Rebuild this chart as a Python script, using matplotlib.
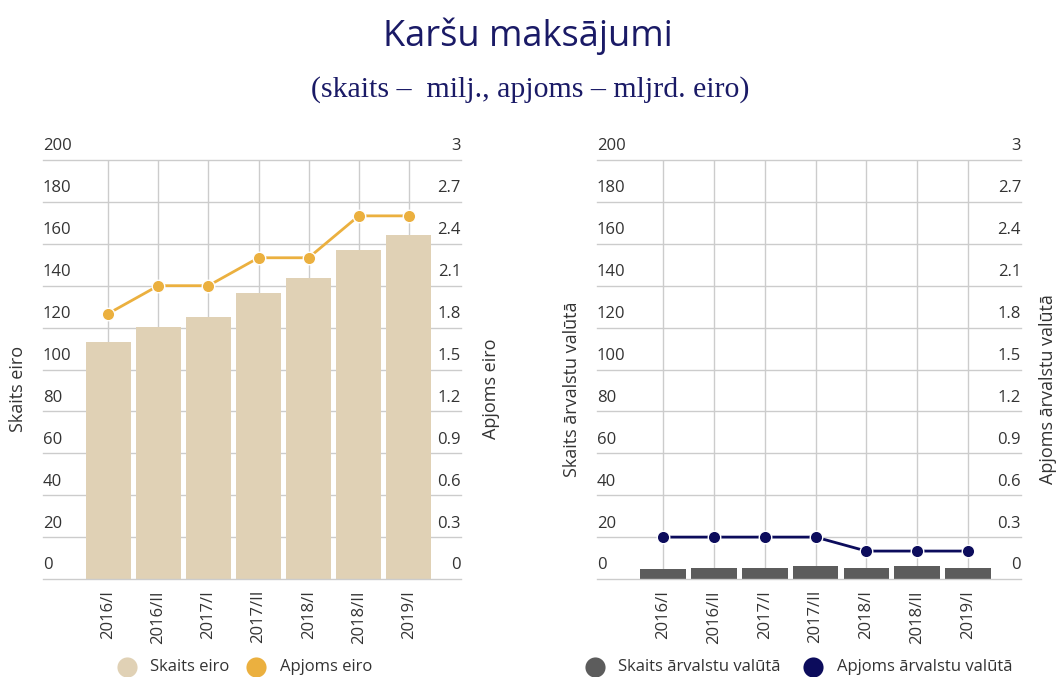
import matplotlib
matplotlib.use("Agg")
import matplotlib.pyplot as plt

# ---- data ----
categories = ["2016/I", "2016/II", "2017/I", "2017/II", "2018/I", "2018/II", "2019/I"]
skaits_eiro = [113, 120.5, 125, 136.5, 143.5, 157, 164]
apjoms_eiro = [1.9, 2.1, 2.1, 2.3, 2.3, 2.6, 2.6]
skaits_arv = [4.6, 5.2, 5.2, 6.0, 5.2, 6.0, 5.2]
apjoms_arv = [0.3, 0.3, 0.3, 0.3, 0.2, 0.2, 0.2]
left_ticks = [0, 20, 40, 60, 80, 100, 120, 140, 160, 180, 200]
right_ticks = [0, 0.3, 0.6, 0.9, 1.2, 1.5, 1.8, 2.1, 2.4, 2.7, 3]
right_tick_labels = ["0", "0.3", "0.6", "0.9", "1.2", "1.5", "1.8", "2.1", "2.4", "2.7", "3"]

TITLE = "Karšu maksājumi"
SUBTITLE = "(skaits –  milj., apjoms – mljrd. eiro)"

C_BEIGE = "#e0d1b5"
C_ORANGE = "#ebb03f"
C_GRAY = "#5c5c5c"
C_NAVY = "#0c0c5c"
C_TITLE = "#1a1a66"
C_TEXT = "#333333"
C_GRID = "#cccccc"

plt.rcParams['font.family'] = ['Open Sans', 'DejaVu Sans']

W, H = 1060, 677
FS = 12
fig = plt.figure(figsize=(W / 100, H / 100), dpi=100)
fig.patch.set_facecolor("white")


def px_axes(x0, y0, x1, y1):
    return fig.add_axes([x0 / W, 1 - y1 / H, (x1 - x0) / W, (y1 - y0) / H])


def make_panel(x0, x1, bars, line, bar_color, line_color, ylab_l, ylab_r, xl, xr):
    ax = px_axes(x0, 160, x1, 579)
    xs = list(range(len(categories)))
    ax.set_xlim(-1.30, 7.04)
    ax.set_ylim(0, 200)
    ax.bar(xs, bars, width=0.9, color=bar_color, zorder=2)
    for s in ax.spines.values():
        s.set_visible(False)
    ax.set_yticks([])
    for v in left_ticks:
        ax.axhline(v, color=C_GRID, lw=1, zorder=3 if v == 0 else 1, clip_on=False)
        ax.annotate(str(v), xy=(0, v), xycoords=("axes fraction", "data"),
                    xytext=(0, 4), textcoords="offset points",
                    ha="left", va="bottom", fontsize=FS, color=C_TEXT)
    for x in xs:
        ax.axvline(x, color=C_GRID, lw=1, zorder=1)
    ax.set_xticks(xs, categories, rotation=90, fontsize=FS, color=C_TEXT)
    ax.tick_params(axis="x", length=0, pad=8)

    ax2 = ax.twinx()
    ax2.set_ylim(0, 3)
    ax2.set_yticks([])
    for s in ax2.spines.values():
        s.set_visible(False)
    ax2.plot(xs, line, color=line_color, lw=2, marker="o", ms=9,
             mfc=line_color, mec="white", mew=1, zorder=3, clip_on=False)
    for v, lab in zip(right_ticks, right_tick_labels):
        ax2.annotate(lab, xy=(1, v), xycoords=("axes fraction", "data"),
                     xytext=(0, 4), textcoords="offset points",
                     ha="right", va="bottom", fontsize=FS, color=C_TEXT)
    fig.text(xl / W, 1 - 389 / H, ylab_l, rotation=90, ha="center", va="center",
             fontsize=13, color=C_TEXT)
    fig.text(xr / W, 1 - 389 / H, ylab_r, rotation=90, ha="center", va="center",
             fontsize=13, color=C_TEXT)
    return ax


make_panel(43, 461, skaits_eiro, apjoms_eiro, C_BEIGE, C_ORANGE,
           "Skaits eiro", "Apjoms eiro", 18, 491)
make_panel(597, 1021, skaits_arv, apjoms_arv, C_GRAY, C_NAVY,
           "Skaits ārvalstu valūtā", "Apjoms ārvalstu valūtā", 572, 1048)

# titles
fig.text(528 / W, 1 - 46 / H, TITLE, ha="center", va="baseline",
         fontsize=26, color=C_TITLE)
fig.text(530 / W, 1 - 97 / H, SUBTITLE, ha="center", va="baseline",
         fontsize=21.5, color=C_TITLE, family="Liberation Serif")

# legends (overlay)
ov = fig.add_axes([0, 0, 1, 1], zorder=-1)
ov.set_xlim(0, W)
ov.set_ylim(H, 0)
ov.axis("off")
legend_items = [
    (127, 150, C_BEIGE, "Skaits eiro"),
    (256, 280, C_ORANGE, "Apjoms eiro"),
    (595, 618, C_GRAY, "Skaits ārvalstu valūtā"),
    (813, 837, C_NAVY, "Apjoms ārvalstu valūtā"),
]
for cx, tx, col, lab in legend_items:
    ov.plot([cx], [667], marker="o", ms=14.5, color=col, mec="none")
    ov.text(tx, 667, lab, ha="left", va="center", fontsize=FS, color=C_TEXT)

fig.savefig("out.png", dpi=100)
